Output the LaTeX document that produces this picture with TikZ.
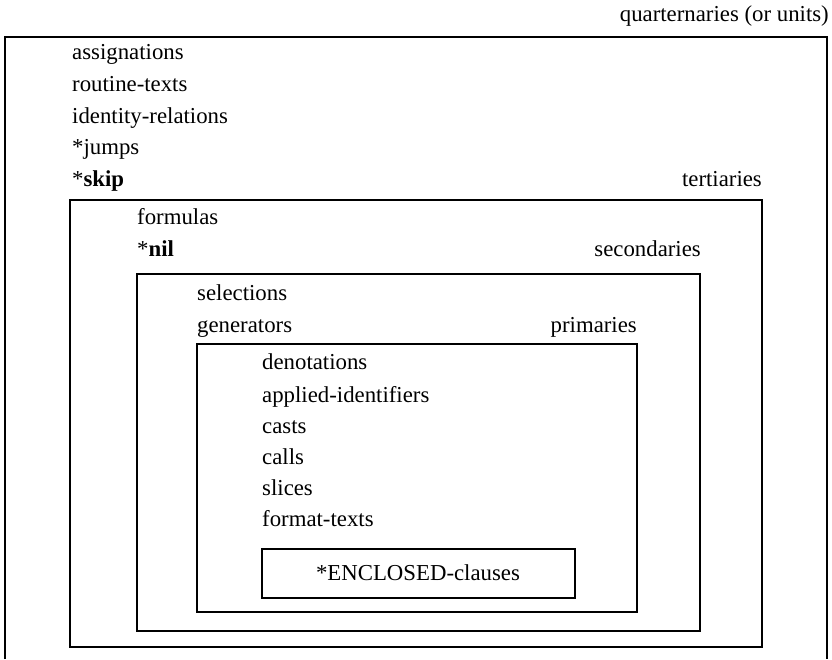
\documentclass[tikz,border=0pt]{standalone}
\usepackage{fontspec}
\setmainfont{Liberation Serif}
\begin{document}
\begin{tikzpicture}[x=1pt,y=-1pt,
  lbl/.style={anchor=base west, inner sep=0pt, font=\fontsize{22.8}{26}\selectfont},
  rlbl/.style={anchor=base east, inner sep=0pt, font=\fontsize{22.8}{26}\selectfont},
  clbl/.style={anchor=base, inner sep=0pt, font=\fontsize{22.8}{26}\selectfont},
  frame/.style={draw, line width=1.1pt, line join=miter}]
\useasboundingbox (0,0) rectangle (832,659);
% boxes
\draw[frame] (5,659) -- (5,37) -- (827,37) -- (827,659);
\draw[frame] (70,200) rectangle (762,647);
\draw[frame] (137,274) rectangle (700,631);
\draw[frame] (197,344) rectangle (637,612);
\draw[frame] (262,549) rectangle (575,598);
% labels
\node[rlbl] (quart) at (829,21) {quarternaries (or units)};
\node[lbl] (assign) at (72,59) {assignations};
\node[lbl] (routine) at (72,91) {routine-texts};
\node[lbl] (ident) at (72,123) {identity-relations};
\node[lbl] (jumps) at (72,154) {*jumps};
\node[lbl] (skip) at (72,186) {*\textbf{skip}};
\node[rlbl] (tert) at (762,186) {tertiaries};
\node[lbl] (form) at (137,224) {formulas};
\node[lbl] (nil) at (137,256) {*\textbf{nil}};
\node[rlbl] (sec) at (701,256) {secondaries};
\node[lbl] (sel) at (197,300) {selections};
\node[lbl] (gen) at (197,332) {generators};
\node[rlbl] (prim) at (637,332) {primaries};
\node[lbl] (deno) at (262,369) {denotations};
\node[lbl] (appl) at (262,402) {applied-identifiers};
\node[lbl] (casts) at (262,433) {casts};
\node[lbl] (calls) at (262,464) {calls};
\node[lbl] (slices) at (262,495) {slices};
\node[lbl] (fmt) at (262,526) {format-texts};
\node[clbl] (encl) at (418,580) {*ENCLOSED-clauses};
\end{tikzpicture}
\end{document}
